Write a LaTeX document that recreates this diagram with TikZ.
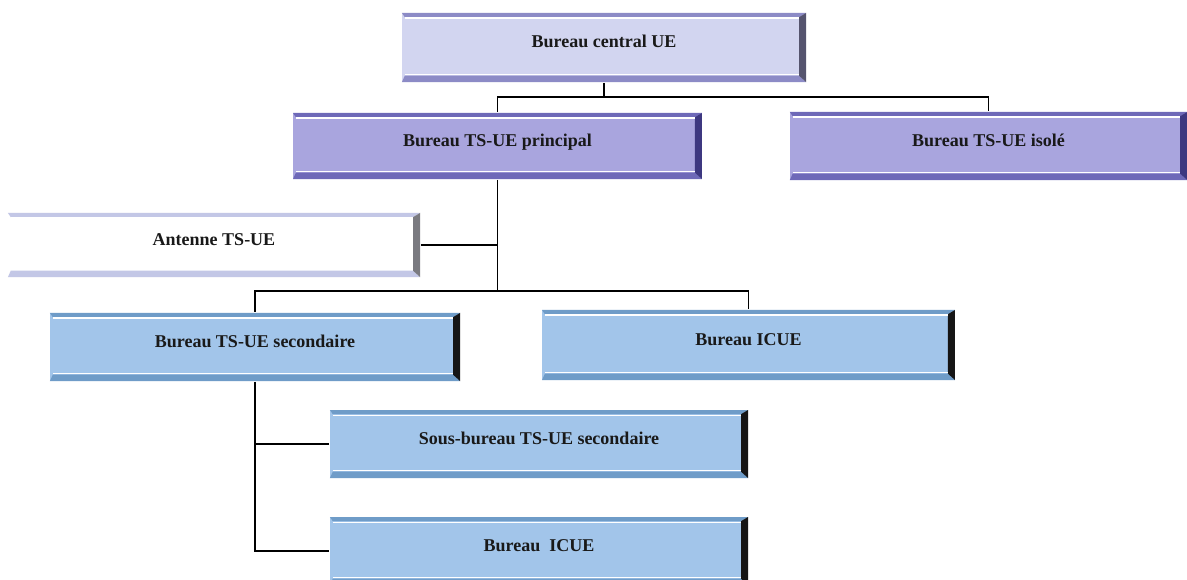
\documentclass[tikz,border=0pt]{standalone}
\usepackage{fontspec}
\setmainfont{Liberation Serif}
\usepackage{xcolor}
\definecolor{lavlight}{HTML}{D2D5F0}
\definecolor{lavband}{HTML}{8C8BC6}
\definecolor{lavedge}{HTML}{55546E}
\definecolor{purfill}{HTML}{A9A5DE}
\definecolor{purband}{HTML}{6E69B8}
\definecolor{puredge}{HTML}{3D3880}
\definecolor{antband}{HTML}{C3C7E6}
\definecolor{antedge}{HTML}{7A7A80}
\definecolor{blufill}{HTML}{A2C5EA}
\definecolor{bluband}{HTML}{6F9CC8}
\definecolor{bluedge}{HTML}{151515}
\tikzset{
  bevel/.style n args={3}{fill=#1, path picture={
      \fill[#2] (path picture bounding box.north west) -- (path picture bounding box.north east)
        -- ([shift={(-5pt,-3pt)}]path picture bounding box.north east)
        -- ([shift={(2pt,-3pt)}]path picture bounding box.north west) -- cycle;
      \fill[#2] (path picture bounding box.south west) -- (path picture bounding box.south east)
        -- ([shift={(-5pt,4.5pt)}]path picture bounding box.south east)
        -- ([shift={(2pt,4.5pt)}]path picture bounding box.south west) -- cycle;
      \fill[#3] (path picture bounding box.north east) -- (path picture bounding box.south east)
        -- ([shift={(-5pt,4.5pt)}]path picture bounding box.south east)
        -- ([shift={(-5pt,-3pt)}]path picture bounding box.north east) -- cycle;
      \draw[white, line width=0.8pt] ([shift={(2pt,-3.6pt)}]path picture bounding box.north west)
        -- ([shift={(-5pt,-3.6pt)}]path picture bounding box.north east);
      \draw[white, line width=0.8pt] ([shift={(2pt,5.1pt)}]path picture bounding box.south west)
        -- ([shift={(-5pt,5.1pt)}]path picture bounding box.south east);
    }}
}

\begin{document}
\begin{tikzpicture}[x=0.025cm,y=-0.025cm,line width=1.2pt,
    main/.style={inner sep=0pt, text height=8pt, text depth=8pt, text=black!90,
      font=\fontsize{12.8}{15}\selectfont\bfseries}]
  \useasboundingbox[fill=white] (0,0) rectangle (1187,579);

  \node[main, bevel={lavlight}{lavband}{lavedge}, minimum width=10.1cm, minimum height=1.725cm] (1) at (604,47.5) {Bureau central UE};
  \node[main, bevel={purfill}{purband}{puredge}, minimum width=10.22cm, minimum height=1.65cm] (2) at (497.5,146) {Bureau TS-UE principal};
  \node[main, bevel={purfill}{purband}{puredge}, minimum width=9.93cm, minimum height=1.7cm] (3) at (988.5,146) {Bureau TS-UE isolé};
  \node[main, bevel={white}{antband}{antedge}, minimum width=10.3cm, minimum height=1.6cm] (4) at (214,245) {Antenne TS-UE};
  \node[main, bevel={blufill}{bluband}{bluedge}, minimum width=10.25cm, minimum height=1.7cm] (5) at (255,347) {Bureau TS-UE secondaire};
  \node[main, bevel={blufill}{bluband}{bluedge}, minimum width=10.32cm, minimum height=1.75cm] (6) at (748.5,345) {Bureau ICUE};
  \node[main, bevel={blufill}{bluband}{bluedge}, minimum width=10.45cm, minimum height=1.7cm] (7) at (539,444) {Sous-bureau TS-UE secondaire};
  \node[main, bevel={blufill}{bluband}{bluedge}, minimum width=10.45cm, minimum height=1.7cm] (8) at (539,551) {Bureau \ ICUE};

  % liaisons
  \draw (1.south) -- ++(0,14) coordinate (j1);
  \draw (j1) -| (2.north);
  \draw (j1) -| (3.north);

  \draw (2.south) -- ++(0,111) coordinate (j2);
  \draw (j2) -| (5.north);
  \draw (j2) -| (6.north);
  \draw (4.east) -- (4.east -| 2.south);

  \draw (5.south) |- (8.west);
  \draw (7.west) -- (7.west -| 5.south);
\end{tikzpicture}
\end{document}
